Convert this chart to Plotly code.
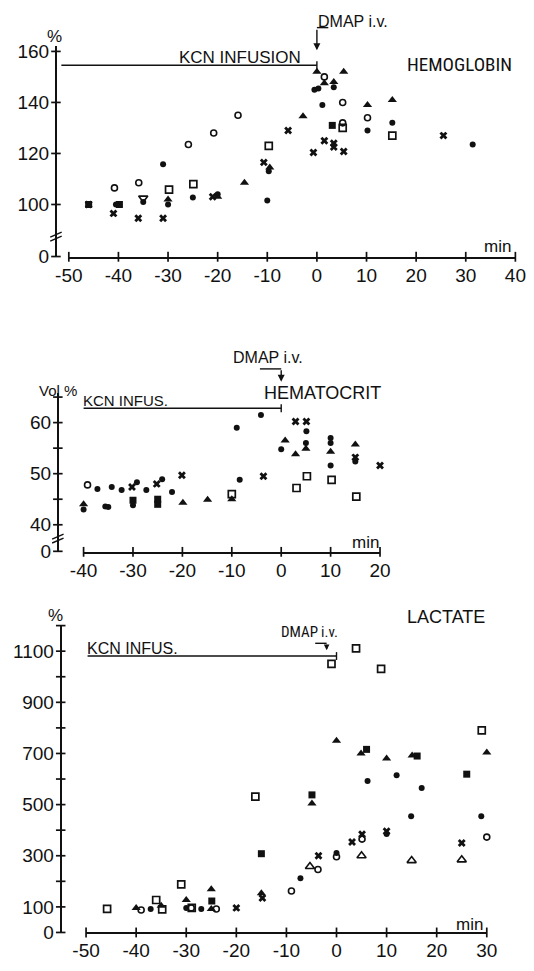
import plotly.graph_objects as go

W, H = 534, 971

# ---------------- data (time in min, value in % / Vol%) ----------------
# Hemoglobin
hb_cross_t = [-46, -41, -36, -31, -21, -10.7, -5.8, -0.7, 1.5, 3.4, 3.4, 5.4, 25.5]
hb_cross_v = [100, 96.5, 94.6, 94.6, 103, 116.5, 129, 120.4, 125, 124, 122.5, 120.8, 127]
hb_dot_t = [-40.5, -35, -30, -31, -25, -20, -10, -9.7, -0.5, 0.3, 1.1, 3.4, 10.2, 15.2, 31.4]
hb_dot_v = [100, 101, 100, 115.8, 102.7, 104, 101.6, 113, 145, 145.5, 139, 146, 129, 132, 123.5]
hb_ring_t = [-40.8, -35.9, -25.9, -20.8, -15.9, 1.5, 5.2, 10.2, 5.2]
hb_ring_v = [106.5, 108.5, 123.5, 128, 135, 150, 140, 134, 132]
hb_sqo_t = [-29.8, -24.9, -9.7, 5.2, 15.2]
hb_sqo_v = [105.8, 108, 123, 130, 127]
hb_sqf_t = [-46, -39.8, 3.1]
hb_sqf_v = [100, 100, 131]
hb_tri_t = [-30, -20, -14.6, -9.5, -2.8, 0, 1.5, 3.4, 5.4, 10.2, 15.2]
hb_tri_v = [102, 103, 108.5, 114.5, 134.6, 152, 147.5, 148, 152, 139, 141]
hb_trid_t = [-35]
hb_trid_v = [102.5]

# Hematocrit
hc_dot_t = [-40, -37.2, -35.6, -35, -34.3, -32.3, -30, -29.2, -27.3, -24.1, -22.1, -9, -8.4, -4.1, 0, 5.1, 5, 10, 10, 10, 15]
hc_dot_v = [43, 47, 43.6, 43.5, 47.4, 46.8, 43.8, 48.3, 46.8, 48.9, 46.4, 59, 48.8, 61.5, 54.8, 58.3, 56, 57, 56, 51.6, 52.4]
hc_ring_t = [-39.2]
hc_ring_v = [47.8]
hc_cross_t = [-30.2, -25.2, -20.1, -3.6, 2.9, 5.1, 15, 20]
hc_cross_v = [47.4, 48, 49.7, 49.5, 60.2, 60.2, 53.2, 51.6]
hc_sqo_t = [-10, 3.1, 5.2, 10.2, 15.2]
hc_sqo_v = [46, 47.2, 49.5, 48.8, 45.5]
hc_sqf_t = [-30, -25, -25]
hc_sqf_v = [44.8, 45, 44]
hc_tri_t = [-40, -19.9, -14.9, -10, 0.8, 2.9, 5, 10, 15]
hc_tri_v = [44, 44.3, 44.9, 45, 56.5, 53.8, 54.9, 54.3, 55.7]

# Lactate
la_sqo_t = [-45.8, -36, -34.8, -31, -28.9, -16.2, -1, 3.9, 8.9, 29]
la_sqo_v = [92, 127, 90, 188, 96, 531, 1050, 1111, 1031, 790]
la_sqf_t = [-24.9, -15, -4.9, 6, 16.1, 26]
la_sqf_v = [123, 308, 538, 716, 690, 619]
la_tri_t = [-40, -35, -30, -25, -25, -15, -4.9, 0, 4.9, 10, 15.1, 30]
la_tri_v = [96, 104, 127, 169, 92, 153, 504, 750, 700, 680, 692, 704]
la_trio_t = [-5.3, 5, 15, 25]
la_trio_v = [258, 300, 281, 284]
la_dot_t = [-37.1, -30, -27, -7.2, 0, 6.2, 10, 12, 14.9, 17, 28.9]
la_dot_v = [92, 96, 92, 212, 311, 592, 385, 615, 454, 565, 454]
la_ring_t = [-39, -29, -24, -9, -3.7, 0, 5.1, 30]
la_ring_v = [88, 96, 92, 162, 246, 296, 365, 373]
la_cross_t = [-20, -14.8, -3.6, 3.1, 5.1, 10, 25]
la_cross_v = [96, 135, 300, 354, 384, 396, 350]

# infusion periods (min) and level of the marker line
kcn_start = [-51.5, -40, -49.7]
kcn_end = [0, 0, 0]
kcn_level = [154.6, 62.8, 1081]
dmap_time = 0

# axes ticks
hb_xticks = list(range(-50, 41, 10))
hc_xticks = list(range(-40, 21, 10))
la_xticks = list(range(-50, 31, 10))
hb_ytick_vals = [79.6, 100, 120, 140, 160]
hb_ytick_text = ["0", "100", "120", "140", "160"]
hc_ytick_vals = [34.8, 40, 45, 50, 55, 60, 65]
hc_ytick_text = ["0", "40", "", "50", "", "60", ""]
la_ytick_vals = list(range(0, 1201, 100))
la_ytick_text = [str(v) if v in (0, 100, 300, 500, 700, 900, 1100) else "" for v in la_ytick_vals]

# ---------------- figure ----------------
FONT = "Liberation Sans, Arial, sans-serif"
COND = "Roboto Condensed, Liberation Sans Narrow, Liberation Sans, sans-serif"
BLACK = "#111111"


def pxx(x):
    return x / W


def pyy(y):
    return 1 - y / H


# panel geometry in pixels: x domain, y domain (top, bottom), y-axis line position
PANELS = [
    dict(xd=(57.5, 526), yd=(42, 256), yax_px=44, xr=[-50, 40], yr=[79.5, 162]),
    dict(xd=(73, 384), yd=(395, 556), yax_px=46, xr=[-40, 20], yr=[34.7, 65.7]),
    dict(xd=(75.6, 496), yd=(631, 943), yax_px=49, xr=[-50, 30], yr=[0, 1200]),
]


def data_to_px(p, t, v):
    P = PANELS[p]
    sx = (P["xd"][1] - P["xd"][0]) / (P["xr"][1] - P["xr"][0])
    sy = (P["yd"][1] - P["yd"][0]) / (P["yr"][1] - P["yr"][0])
    return P["xd"][0] + (t - P["xr"][0]) * sx, P["yd"][1] - (v - P["yr"][0]) * sy


fig = go.Figure()

STY = {
    "cross": dict(symbol="x", size=7, color=BLACK, line=dict(width=0)),
    "dot": dict(symbol="circle", size=6, color=BLACK),
    "ring": dict(symbol="circle-open", size=6, color=BLACK, line=dict(width=1.6, color=BLACK)),
    "sqo": dict(symbol="square-open", size=7, color=BLACK, line=dict(width=1.7, color=BLACK)),
    "sqf": dict(symbol="square", size=7, color=BLACK),
    "tri": dict(symbol="triangle-up", size=8, color=BLACK),
    "trio": dict(symbol="triangle-up-open", size=8, color=BLACK, line=dict(width=1.6, color=BLACK)),
    "trid": dict(symbol="triangle-down-open", size=8, color=BLACK, line=dict(width=1.6, color=BLACK)),
}


def add(t, v, kind, xa, ya):
    fig.add_trace(go.Scatter(x=t, y=v, mode="markers", marker=STY[kind], cliponaxis=False,
                             xaxis=xa, yaxis=ya, showlegend=False, hoverinfo="skip"))


# panel 1
add(hb_cross_t, hb_cross_v, "cross", "x", "y")
add(hb_dot_t, hb_dot_v, "dot", "x", "y")
add(hb_ring_t, hb_ring_v, "ring", "x", "y")
add(hb_sqo_t, hb_sqo_v, "sqo", "x", "y")
add(hb_sqf_t, hb_sqf_v, "sqf", "x", "y")
add(hb_tri_t, hb_tri_v, "tri", "x", "y")
add(hb_trid_t, hb_trid_v, "trid", "x", "y")
# panel 2
add(hc_dot_t, hc_dot_v, "dot", "x2", "y2")
add(hc_ring_t, hc_ring_v, "ring", "x2", "y2")
add(hc_cross_t, hc_cross_v, "cross", "x2", "y2")
add(hc_sqo_t, hc_sqo_v, "sqo", "x2", "y2")
add(hc_sqf_t, hc_sqf_v, "sqf", "x2", "y2")
add(hc_tri_t, hc_tri_v, "tri", "x2", "y2")
# panel 3
add(la_sqo_t, la_sqo_v, "sqo", "x3", "y3")
add(la_sqf_t, la_sqf_v, "sqf", "x3", "y3")
add(la_tri_t, la_tri_v, "tri", "x3", "y3")
add(la_trio_t, la_trio_v, "trio", "x3", "y3")
add(la_dot_t, la_dot_v, "dot", "x3", "y3")
add(la_ring_t, la_ring_v, "ring", "x3", "y3")
add(la_cross_t, la_cross_v, "cross", "x3", "y3")

tickfont = dict(family=FONT, size=19, color=BLACK)


def xax(P, ticks, anchor):
    return dict(domain=[pxx(P["xd"][0]), pxx(P["xd"][1])], range=P["xr"], tickmode="array",
                tickvals=ticks, ticktext=[str(t) for t in ticks], showgrid=False,
                zeroline=False, anchor=anchor, ticks="", ticklabelstandoff=0,
                tickfont=tickfont, fixedrange=True, showline=True, linecolor=BLACK,
                linewidth=2)


def yax(P, vals, text):
    return dict(domain=[pyy(P["yd"][1]), pyy(P["yd"][0])], range=P["yr"], tickmode="array",
                tickvals=vals, ticktext=text, showgrid=False, zeroline=False,
                anchor="free", position=pxx(P["yax_px"]), ticks="", ticklabelstandoff=2,
                tickfont=tickfont, fixedrange=True, showline=True, linecolor=BLACK,
                linewidth=2)


fig.update_layout(
    width=W, height=H, margin=dict(l=0, r=0, t=0, b=0),
    paper_bgcolor="white", plot_bgcolor="white",
    font=dict(family=FONT, color=BLACK),
    xaxis=xax(PANELS[0], hb_xticks, "y"),
    yaxis=yax(PANELS[0], hb_ytick_vals, hb_ytick_text),
    xaxis2=xax(PANELS[1], hc_xticks, "y2"),
    yaxis2=yax(PANELS[1], hc_ytick_vals, hc_ytick_text),
    xaxis3=xax(PANELS[2], la_xticks, "y3"),
    yaxis3=yax(PANELS[2], la_ytick_vals, la_ytick_text),
)


def label(text, x, y, size=16, xanchor="center", yanchor="middle", family=FONT):
    fig.add_annotation(text=text, x=pxx(x), y=pyy(y), xref="paper", yref="paper",
                       showarrow=False, xanchor=xanchor, yanchor=yanchor,
                       font=dict(family=family, size=size, color=BLACK))


def seg(x0, y0, x1, y1, w=1.4):
    fig.add_shape(type="line", xref="paper", yref="paper", x0=pxx(x0), y0=pyy(y0),
                  x1=pxx(x1), y1=pyy(y1), line=dict(color=BLACK, width=w))


# crossing tick marks on both axes of each panel (positions from the tick values)
xt_all = [hb_xticks, hc_xticks, la_xticks]
yt_all = [hb_ytick_vals, hc_ytick_vals, la_ytick_vals]
TH = 5
for i in range(3):
    P = PANELS[i]
    for t in xt_all[i]:
        x, y = data_to_px(i, t, P["yr"][0])
        seg(x, y - TH, x, y + TH, 1.7)
    for v in yt_all[i]:
        _, y = data_to_px(i, P["xr"][0], v)
        seg(P["yax_px"] - TH, y, P["yax_px"] + TH, y, 1.7)

# KCN infusion lines with end tick (positions derived from the data scales)
for i in range(3):
    x0, yl = data_to_px(i, kcn_start[i], kcn_level[i])
    x1, _ = data_to_px(i, kcn_end[i], kcn_level[i])
    seg(x0, yl, x1, yl, 1.4)
    seg(x1, yl - 4, x1, yl + 4, 1.4)


def arrow_px(x, ytip, length, size=1.0):
    fig.add_annotation(x=pxx(x), y=pyy(ytip), xref="paper", yref="paper", text="",
                       showarrow=True, ax=0, ay=-length, arrowhead=2, arrowsize=size,
                       arrowwidth=1.4, arrowcolor=BLACK)


d1x, _ = data_to_px(0, dmap_time, 0)
d2x, _ = data_to_px(1, dmap_time, 0)

# panel 1 texts
label("%", 43, 32, 17)
label("min", 507, 246, 17)
label("KCN INFUSION", 237, 53, 17)
label("HEMOGLOBIN", 467, 60, 19, family=COND)
label("DMAP i.v.", d1x - 1, 17, 16, xanchor="left")
arrow_px(d1x, 46, 22)
seg(d1x, 23, d1x + 12, 23)
# break marks
seg(38, 236, 50, 231)
seg(38, 240, 50, 235)

# panel 2 texts
label("Vol %", 46, 392, 15)
label("KCN INFUS.", 117, 402, 15)
label("HEMATOCRIT", 324, 395, 18)
label("DMAP i.v.", 266, 358, 16)
seg(258, 370, d2x, 370)
arrow_px(d2x, 383, 13)
label("min", 369, 547, 17)
seg(40, 543, 52, 538)
seg(40, 547, 52, 542)

# panel 3 texts
label("%", 44, 621, 17)
label("LACTATE", 453, 622, 18)
label("KCN INFUS.", 124, 654, 16)
label("DMAP", 300, 638, 15, family=COND)
label("i.v.", 331, 638, 15, family=COND)
seg(316, 649, 328, 649)
arrow_px(328, 656, 7, 0.8)
label("min", 478, 935, 17)

fig.write_html("out.html")
